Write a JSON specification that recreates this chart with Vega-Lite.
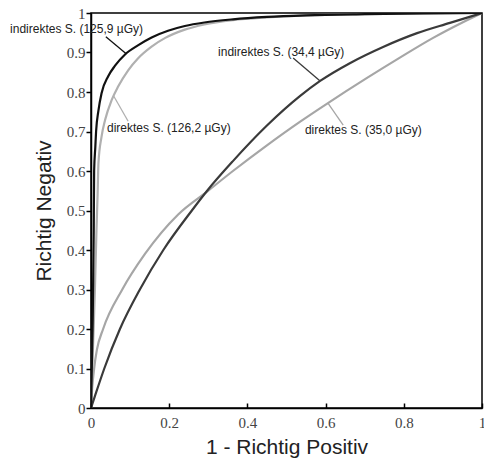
{
  "$schema": "https://vega.github.io/schema/vega-lite/v6.json",
  "width": 391,
  "height": 395,
  "autosize": "none",
  "padding": {"left": 91, "top": 13, "right": 2, "bottom": 51},
  "background": "white",
  "config": {
    "view": {"stroke": "#000", "strokeWidth": 1.5},
    "axis": {
      "grid": false,
      "domainColor": "#000",
      "domainWidth": 1.5,
      "tickColor": "#000",
      "tickWidth": 1.5,
      "labelFont": "Liberation Serif",
      "labelFontSize": 15,
      "labelColor": "#444",
      "labelOverlap": false,
      "labelFlush": false,
      "format": "~g",
      "titleFont": "Liberation Sans",
      "titleFontWeight": "normal",
      "titleFontSize": 21,
      "titleColor": "#222"
    }
  },
  "datasets": {
    "curves": [
      {"s": "d126", "x": 0, "y": 0},
      {"s": "d126", "x": 0.005, "y": 0.15},
      {"s": "d126", "x": 0.01, "y": 0.3},
      {"s": "d126", "x": 0.014, "y": 0.45},
      {"s": "d126", "x": 0.017, "y": 0.544},
      {"s": "d126", "x": 0.019, "y": 0.62},
      {"s": "d126", "x": 0.027, "y": 0.687},
      {"s": "d126", "x": 0.036, "y": 0.729},
      {"s": "d126", "x": 0.053, "y": 0.78},
      {"s": "d126", "x": 0.069, "y": 0.813},
      {"s": "d126", "x": 0.095, "y": 0.855},
      {"s": "d126", "x": 0.12, "y": 0.885},
      {"s": "d126", "x": 0.155, "y": 0.915},
      {"s": "d126", "x": 0.19, "y": 0.937},
      {"s": "d126", "x": 0.24, "y": 0.958},
      {"s": "d126", "x": 0.29, "y": 0.971},
      {"s": "d126", "x": 0.363, "y": 0.982},
      {"s": "d126", "x": 0.45, "y": 0.989},
      {"s": "d126", "x": 0.55, "y": 0.994},
      {"s": "d126", "x": 0.7, "y": 0.997},
      {"s": "d126", "x": 0.85, "y": 0.999},
      {"s": "d126", "x": 1, "y": 1},
      {"s": "d35", "x": 0, "y": 0},
      {"s": "d35", "x": 0.003, "y": 0.05},
      {"s": "d35", "x": 0.008, "y": 0.1},
      {"s": "d35", "x": 0.015, "y": 0.147},
      {"s": "d35", "x": 0.031, "y": 0.2},
      {"s": "d35", "x": 0.08, "y": 0.3},
      {"s": "d35", "x": 0.138, "y": 0.39},
      {"s": "d35", "x": 0.223, "y": 0.49},
      {"s": "d35", "x": 0.297, "y": 0.548},
      {"s": "d35", "x": 0.363, "y": 0.6},
      {"s": "d35", "x": 0.45, "y": 0.665},
      {"s": "d35", "x": 0.535, "y": 0.725},
      {"s": "d35", "x": 0.606, "y": 0.772},
      {"s": "d35", "x": 0.705, "y": 0.835},
      {"s": "d35", "x": 0.79, "y": 0.887},
      {"s": "d35", "x": 0.875, "y": 0.937},
      {"s": "d35", "x": 0.95, "y": 0.976},
      {"s": "d35", "x": 1, "y": 1},
      {"s": "i34", "x": 0, "y": 0},
      {"s": "i34", "x": 0.01, "y": 0.03},
      {"s": "i34", "x": 0.034, "y": 0.1},
      {"s": "i34", "x": 0.074, "y": 0.2},
      {"s": "i34", "x": 0.125, "y": 0.3},
      {"s": "i34", "x": 0.185, "y": 0.4},
      {"s": "i34", "x": 0.258, "y": 0.5},
      {"s": "i34", "x": 0.297, "y": 0.55},
      {"s": "i34", "x": 0.363, "y": 0.625},
      {"s": "i34", "x": 0.45, "y": 0.715},
      {"s": "i34", "x": 0.535, "y": 0.79},
      {"s": "i34", "x": 0.586, "y": 0.828},
      {"s": "i34", "x": 0.662, "y": 0.873},
      {"s": "i34", "x": 0.747, "y": 0.914},
      {"s": "i34", "x": 0.834, "y": 0.949},
      {"s": "i34", "x": 0.918, "y": 0.975},
      {"s": "i34", "x": 1, "y": 1},
      {"s": "i126", "x": 0, "y": 0},
      {"s": "i126", "x": 0.004, "y": 0.2},
      {"s": "i126", "x": 0.007, "y": 0.45},
      {"s": "i126", "x": 0.008, "y": 0.6},
      {"s": "i126", "x": 0.011, "y": 0.66},
      {"s": "i126", "x": 0.013, "y": 0.7},
      {"s": "i126", "x": 0.019, "y": 0.753},
      {"s": "i126", "x": 0.027, "y": 0.797},
      {"s": "i126", "x": 0.044, "y": 0.84},
      {"s": "i126", "x": 0.061, "y": 0.866},
      {"s": "i126", "x": 0.087, "y": 0.895},
      {"s": "i126", "x": 0.12, "y": 0.918},
      {"s": "i126", "x": 0.155, "y": 0.938},
      {"s": "i126", "x": 0.197, "y": 0.955},
      {"s": "i126", "x": 0.24, "y": 0.967},
      {"s": "i126", "x": 0.29, "y": 0.976},
      {"s": "i126", "x": 0.363, "y": 0.984},
      {"s": "i126", "x": 0.45, "y": 0.99},
      {"s": "i126", "x": 0.55, "y": 0.994},
      {"s": "i126", "x": 0.7, "y": 0.997},
      {"s": "i126", "x": 0.85, "y": 0.999},
      {"s": "i126", "x": 1, "y": 1}
    ],
    "pointers": [
      {"s": "i126", "x": 0.038, "y": 0.94, "x2": 0.09, "y2": 0.897},
      {"s": "d126", "x": 0.058, "y": 0.79, "x2": 0.095, "y2": 0.726},
      {"s": "i34", "x": 0.517, "y": 0.886, "x2": 0.586, "y2": 0.828},
      {"s": "d35", "x": 0.606, "y": 0.772, "x2": 0.645, "y2": 0.716}
    ],
    "labels": [
      {"x": -0.207, "y": 0.96, "t": "indirektes S. (125,9 µGy)"},
      {"x": 0.041, "y": 0.709, "t": "direktes S. (126,2 µGy)"},
      {"x": 0.325, "y": 0.902, "t": "indirektes S. (34,4 µGy)"},
      {"x": 0.547, "y": 0.704, "t": "direktes S. (35,0 µGy)"}
    ]
  },
  "layer": [
    {
      "data": {"name": "curves"},
      "mark": {"type": "line", "interpolate": "monotone", "clip": true},
      "encoding": {
        "x": {"field": "x", "type": "quantitative",
          "scale": {"domain": [0, 1], "nice": false},
          "axis": {"values": [0, 0.2, 0.4, 0.6, 0.8, 1], "labelOverlap": false, "tickSize": -5, "labelPadding": 12, "title": "1 - Richtig Positiv", "titlePadding": 6}},
        "y": {"field": "y", "type": "quantitative",
          "scale": {"domain": [0, 1], "nice": false},
          "axis": {"values": [0, 0.1, 0.2, 0.3, 0.4, 0.5, 0.6, 0.7, 0.8, 0.9, 1], "labelOverlap": false, "tickCount": 11, "tickSize": 5, "labelPadding": 1, "title": "Richtig Negativ", "titlePadding": 12}},
        "detail": {"field": "s"},
        "color": {"field": "s", "type": "nominal", "legend": null,
          "scale": {"domain": ["d126", "d35", "i34", "i126"], "range": ["#b0b0b0", "#a6a6a6", "#3a3a3a", "#111111"]}},
        "strokeWidth": {"field": "s", "type": "nominal", "legend": null,
          "scale": {"domain": ["d126", "d35", "i34", "i126"], "range": [2.2, 2.2, 2.6, 2.8]}}
      }
    },
    {
      "data": {"name": "pointers"},
      "mark": {"type": "rule", "strokeWidth": 1.3},
      "encoding": {
        "x": {"field": "x", "type": "quantitative"},
        "y": {"field": "y", "type": "quantitative"},
        "x2": {"field": "x2"},
        "y2": {"field": "y2"},
        "color": {"field": "s", "type": "nominal", "legend": null}
      }
    },
    {
      "data": {"name": "labels"},
      "mark": {"type": "text", "align": "left", "baseline": "middle", "font": "Liberation Sans", "fontSize": 12, "color": "#222"},
      "encoding": {
        "x": {"field": "x", "type": "quantitative"},
        "y": {"field": "y", "type": "quantitative"},
        "text": {"field": "t"}
      }
    }
  ]
}
